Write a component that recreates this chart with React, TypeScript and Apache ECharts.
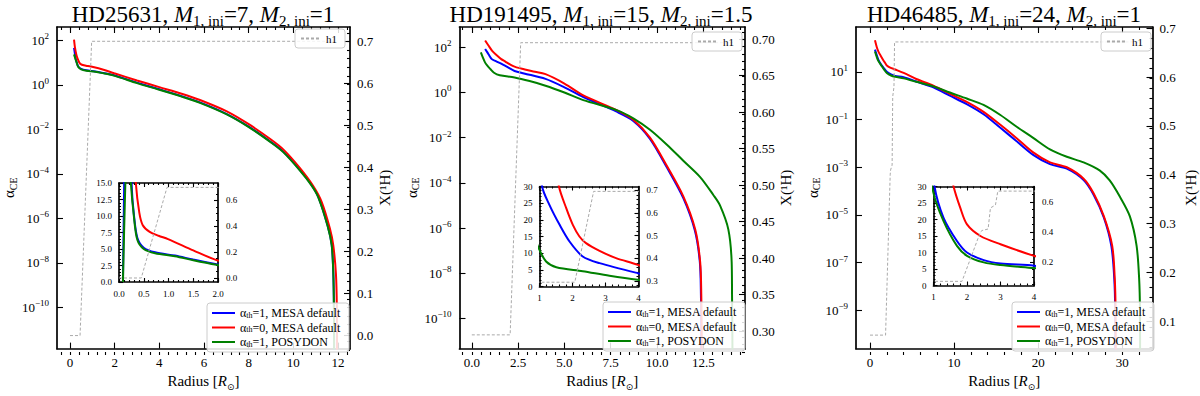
import React, { useEffect, useRef } from 'react';
import * as echarts from 'echarts';

// ---------- DATA: [radius (R_sun), alpha_CE] ; h1: [radius, X(1H)] ----------
const p1Blue: number[][] = [[0.08,0],[0.18,46],[0.22,25],[0.26,14],[0.3,10.3],[0.37,6.7],[0.5,5.2],[0.73,4.5],[1.13,4.0],[1.5,3.4],[1.97,2.7],[3.0,1.26],[4.0,0.63],[5.0,0.31],[5.82,0.163],[7.0,0.050],[8.06,0.0123],[9.0,2.7e-3],[9.55,1.0e-3],[10.3,1.48e-4],[10.8,3.4e-5],[11.12,9.3e-6],[11.54,4.7e-7],[11.72,6.6e-8],[11.79,4.2e-9],[11.82,1e-10],[11.83,1e-13]];
const p1Red: number[][] = [[0.18,107],[0.22,50],[0.28,24],[0.34,15],[0.41,10.5],[0.48,8.6],[0.62,7.6],[0.8,7.0],[0.99,6.5],[1.5,4.8],[1.98,3.3],[3.0,1.58],[4.0,0.79],[5.0,0.40],[5.82,0.209],[7.0,0.066],[8.06,0.0158],[9.0,3.5e-3],[9.55,1.26e-3],[10.3,1.82e-4],[10.9,2.8e-5],[11.27,5.6e-6],[11.64,3.5e-7],[11.79,6.3e-8],[11.91,3.2e-9],[11.95,1e-10],[11.96,1e-13]];
const p1Green: number[][] = [[0.08,0],[0.18,23.4],[0.24,15],[0.3,10],[0.37,6.4],[0.5,5.0],[0.73,4.35],[1.13,3.9],[1.5,3.3],[1.97,2.6],[3.0,1.2],[4.0,0.60],[5.0,0.295],[5.82,0.155],[7.0,0.048],[8.06,0.0117],[9.0,2.6e-3],[9.55,9.5e-4],[10.3,1.41e-4],[10.8,3.2e-5],[11.12,8.9e-6],[11.54,4.5e-7],[11.72,6.3e-8],[11.79,4.0e-9],[11.82,1e-10],[11.83,1e-13]];
const p1H1: number[][] = [[0,0],[0.45,0],[0.97,0.7],[11.85,0.7]];

const p2Blue: number[][] = [[0.72,85],[0.9,50],[1.08,30],[1.3,24.5],[1.61,18.5],[1.91,13.5],[2.31,9.0],[2.82,7.0],[3.98,4.0],[5.0,1.7],[6.02,0.63],[7.82,0.141],[8.72,0.055],[9.62,8.9e-3],[10.52,5.0e-4],[11.42,2.1e-5],[12.04,7.9e-7],[12.31,3.2e-8],[12.37,1.1e-9],[12.39,1e-11],[12.4,1e-14]];
const p2Red: number[][] = [[0.72,200],[0.9,120],[1.1,70],[1.3,48],[1.59,30],[1.81,23.5],[2.01,18.5],[2.21,15],[2.41,13],[2.82,10.7],[3.32,8.5],[3.98,6.5],[5.0,2.5],[6.02,0.74],[7.82,0.166],[8.72,0.062],[9.62,0.01],[10.52,5.8e-4],[11.42,2.5e-5],[12.06,8.7e-7],[12.33,3.1e-8],[12.39,1.1e-9],[12.41,1e-11],[12.42,1e-14]];
const p2Green: number[][] = [[0.49,60],[0.6,35],[0.72,21],[0.85,15],[1.0,11],[1.2,7.5],[1.51,5.8],[2.31,4.6],[3.12,3.2],[3.98,2.0],[5.0,1.0],[6.02,0.46],[7.82,0.166],[8.72,0.072],[9.62,0.0224],[10.52,5.0e-3],[11.42,9.5e-4],[12.33,1.8e-4],[13.04,2.9e-5],[13.4,1e-5],[13.85,8.7e-7],[14.03,3.1e-8],[14.05,1.1e-9],[14.07,1e-11],[14.08,1e-14]];
const p2H1: number[][] = [[0,0.295],[2.07,0.295],[2.64,0.695],[14.1,0.695]];

const p3Blue: number[][] = [[0.59,85],[0.8,50],[1.03,30],[1.3,20.5],[1.7,13.5],[2.0,10],[2.5,7.7],[3.0,6.7],[4.0,6.0],[5.5,3.9],[7.53,2.24],[9.5,1.0],[11.5,0.44],[13.5,0.166],[15.5,0.045],[17.4,0.0126],[19.4,3.3e-3],[21.4,1.35e-3],[23.4,8.7e-4],[25.4,2.9e-4],[26.6,6.9e-5],[27.8,7.9e-6],[28.7,5.0e-7],[29.05,2e-8],[29.15,1e-9],[29.17,1e-12]];
const p3Red: number[][] = [[0.59,209],[0.8,110],[1.0,70],[1.3,45],[1.6,30],[1.8,23.5],[2.0,18.5],[2.4,15],[3.0,12.5],[4.0,9.0],[5.5,5.0],[7.53,2.6],[9.5,1.2],[11.5,0.55],[13.5,0.21],[15.5,0.06],[17.4,0.017],[19.4,4.2e-3],[21.4,1.6e-3],[23.4,1.0e-3],[25.4,3.3e-4],[26.6,7.9e-5],[27.8,8.9e-6],[28.8,5.1e-7],[29.1,2.2e-8],[29.2,1e-9],[29.22,1e-12]];
const p3Green: number[][] = [[0.59,71],[0.8,42],[1.0,28],[1.3,19.5],[1.7,12],[2.0,9.0],[2.5,7.0],[3.0,6.2],[4.0,5.3],[5.5,3.8],[7.53,2.45],[9.5,1.35],[11.5,0.76],[13.5,0.41],[15.5,0.155],[17.4,0.051],[19.4,0.017],[21.4,5.6e-3],[23.4,2.75e-3],[25.4,1.6e-3],[27.3,7.4e-4],[28.5,2.8e-4],[29.7,5.9e-5],[30.9,8.7e-6],[31.7,5.1e-7],[32.0,2.2e-8],[32.1,1e-9],[32.12,1e-12]];
const p3H1: number[][] = [[0,0.072],[1.85,0.072],[2.4,0.40],[2.45,0.41],[2.63,0.42],[2.7,0.56],[2.85,0.58],[2.92,0.672],[32.1,0.672]];

// titles
const starNames = ['HD25631', 'HD191495', 'HD46485'];
const m1Values = ['7', '15', '24'];
const m2Values = ['1', '1.5', '1'];

// tick labels
const p1XTicks = [0, 2, 4, 6, 8, 10, 12];
const p2XTicks = [0, 2.5, 5, 7.5, 10, 12.5];
const p3XTicks = [0, 10, 20, 30];
const p1LogTicks = [2, 0, -2, -4, -6, -8, -10];
const p2LogTicks = [2, 0, -2, -4, -6, -8, -10];
const p3LogTicks = [1, -1, -3, -5, -7, -9];
const p1HTicks = [0, 0.1, 0.2, 0.3, 0.4, 0.5, 0.6, 0.7];
const p2HTicks = [0.3, 0.35, 0.4, 0.45, 0.5, 0.55, 0.6, 0.65, 0.7];
const p3HTicks = [0.1, 0.2, 0.3, 0.4, 0.5, 0.6, 0.7];
const p1InsetXTicks = [0, 0.5, 1, 1.5, 2];
const p1InsetYTicks = [0, 2.5, 5, 7.5, 10, 12.5, 15];
const p1InsetHTicks = [0, 0.2, 0.4, 0.6];
const p23InsetXTicks = [1, 2, 3, 4];
const p23InsetYTicks = [0, 5, 10, 15, 20, 25, 30];
const p2InsetHTicks = [0.3, 0.4, 0.5, 0.6, 0.7];
const p3InsetHTicks = [0.2, 0.4, 0.6];

const legendNames: Record<string, string> = {
  b: '{a|α}{s|th}{a|=1, MESA default}',
  r: '{a|α}{s|th}{a|=0, MESA default}',
  g: '{a|α}{s|th}{a|=1, POSYDON}',
  h1: '{h|h1}',
};

const FONT = '"Liberation Serif", "DejaVu Serif", serif';
const BLUE = '#0000ff';
const RED = '#ff0000';
const GREEN = '#008000';

function range(a: number, b: number, step: number): number[] {
  const out: number[] = [];
  for (let v = a; v <= b + 1e-9; v += step) out.push(Math.round(v * 1e6) / 1e6);
  return out;
}

const fmtFixed = (d: number) => (v: number) => Number(v).toFixed(d);
const fmtPow = (v: number) => {
  const e = Math.round(v);
  return `{n|10}{s|${e < 0 ? '−' + Math.abs(e) : e}}`;
};

type Panel = {
  grid: { left: number; top: number; width: number; height: number };
  x: [number, number]; xMajor: number[]; xMinor: number[]; xFmt: (v: number) => string;
  y: [number, number]; yMajor: number[];
  h: [number, number]; hMajor: number[]; hMinor: number[]; hFmt: (v: number) => string;
  inset: { left: number; top: number; width: number; height: number };
  ix: [number, number]; ixMajor: number[]; ixMinor: number[]; ixFmt: (v: number) => string;
  iy: [number, number]; iyMajor: number[]; iyMinor: number[]; iyFmt: (v: number) => string;
  ihMajor: number[]; ihMinor: number[]; ihFmt: (v: number) => string;
  blue: number[][]; red: number[][]; green: number[][]; h1: number[][];
  titleX: number; leg: [number, number]; hLeg: [number, number];
  leftGap: number; rightGap: number;
};

const panels: Panel[] = [
  {
    grid: { left: 57, top: 27, width: 293, height: 328 },
    x: [-0.582, 12.54], xMajor: p1XTicks, xMinor: range(-0.4, 12.4, 0.4), xFmt: (v) => String(v),
    y: [-11.85, 2.6], yMajor: p1LogTicks,
    h: [-0.031, 0.734], hMajor: p1HTicks, hMinor: range(-0.02, 0.72, 0.02), hFmt: fmtFixed(1),
    inset: { left: 119, top: 183, width: 99, height: 99 },
    ix: [0, 2], ixMajor: p1InsetXTicks, ixMinor: range(0, 2, 0.1), ixFmt: fmtFixed(1),
    iy: [0, 15], iyMajor: p1InsetYTicks, iyMinor: range(0, 15, 0.5), iyFmt: fmtFixed(1),
    ihMajor: p1InsetHTicks, ihMinor: range(0, 0.7, 0.05), ihFmt: fmtFixed(1),
    blue: p1Blue, red: p1Red, green: p1Green, h1: p1H1,
    titleX: 203, leg: [207, 303], hLeg: [295, 29], leftGap: 32, rightGap: 10,
  },
  {
    grid: { left: 459.5, top: 27, width: 285.5, height: 328 },
    x: [-0.664, 14.75], xMajor: p2XTicks, xMinor: range(-0.5, 14.5, 0.5), xFmt: fmtFixed(1),
    y: [-11.34, 2.9], yMajor: p2LogTicks,
    h: [0.2762, 0.7165], hMajor: p2HTicks, hMinor: range(0.28, 0.71, 0.01), hFmt: fmtFixed(2),
    inset: { left: 539.5, top: 186.5, width: 99, height: 100 },
    ix: [1, 4], ixMajor: p23InsetXTicks, ixMinor: range(1, 4, 0.2), ixFmt: (v) => String(v),
    iy: [0, 30], iyMajor: p23InsetYTicks, iyMinor: range(0, 30, 1), iyFmt: (v) => String(v),
    ihMajor: p2InsetHTicks, ihMinor: range(0.28, 0.7, 0.02), ihFmt: fmtFixed(1),
    blue: p2Blue, red: p2Red, green: p2Green, h1: p2H1,
    titleX: 601, leg: [603, 302], hLeg: [692, 32], leftGap: 32, rightGap: 21,
  },
  {
    grid: { left: 856, top: 27, width: 296.5, height: 328 },
    x: [-1.665, 33.59], xMajor: p3XTicks, xMinor: range(0, 32, 2), xFmt: (v) => String(v),
    y: [-10.6, 2.878], yMajor: p3LogTicks,
    h: [0.0444, 0.7026], hMajor: p3HTicks, hMinor: range(0.06, 0.7, 0.02), hFmt: fmtFixed(1),
    inset: { left: 933.5, top: 186.5, width: 100.5, height: 99 },
    ix: [1, 4], ixMajor: p23InsetXTicks, ixMinor: range(1, 4, 0.2), ixFmt: (v) => String(v),
    iy: [0, 30], iyMajor: p23InsetYTicks, iyMinor: range(0, 30, 1), iyFmt: (v) => String(v),
    ihMajor: p3InsetHTicks, ihMinor: range(0.05, 0.7, 0.05), ihFmt: fmtFixed(1),
    blue: p3Blue, red: p3Red, green: p3Green, h1: p3H1,
    titleX: 1004, leg: [1012, 302], hLeg: [1101, 32], leftGap: 32, rightGap: 31,
  },
];

function buildOption() {
  const grid: any[] = [];
  const xAxis: any[] = [];
  const yAxis: any[] = [];
  const series: any[] = [];
  const legend: any[] = [];
  const elements: any[] = [];

  const line = (show: boolean) => ({ show, onZero: false, lineStyle: { color: '#000', width: 1.7 } });
  const ticks = (vals: number[], len: number) => ({
    show: true, inside: true, length: len, customValues: vals, lineStyle: { color: '#000', width: 1.1 },
  });
  const base = { type: 'value', splitLine: { show: false }, silent: true, scale: false };
  const label = (vals: number[], fmt: any, size: number, margin: number, rich?: any) => ({
    show: true, customValues: vals, formatter: fmt, margin, color: '#000', fontFamily: FONT, fontSize: size, rich,
  });
  const addX = (c: any) => { xAxis.push({ ...base, ...c }); return xAxis.length - 1; };
  const addY = (c: any) => { yAxis.push({ ...base, ...c }); return yAxis.length - 1; };
  const addGrid = (g: any, extra: any = {}) => { grid.push({ ...g, containLabel: false, show: false, ...extra }); return grid.length - 1; };

  const powRich = {
    n: { fontFamily: FONT, fontSize: 13, lineHeight: 17, color: '#000' },
    s: { fontFamily: FONT, fontSize: 9, lineHeight: 9, verticalAlign: 'top', color: '#000' },
  };

  panels.forEach((p, pi) => {
    const gA = addGrid(p.grid);
    const gB = addGrid(p.grid);
    const xb = addX({
      gridIndex: gA, position: 'bottom', min: p.x[0], max: p.x[1], axisLine: line(true),
      axisTick: ticks(p.xMajor, 6), axisLabel: label(p.xMajor, p.xFmt, 13, 7),
      name: '{n|Radius [}{i|R}{s|⊙}{n|]}', nameLocation: 'middle', nameGap: 19,
      nameTextStyle: {
        color: '#000', fontFamily: FONT, fontSize: 15,
        rich: {
          n: { fontFamily: FONT, fontSize: 15, lineHeight: 20, color: '#000' },
          i: { fontFamily: FONT, fontSize: 15, lineHeight: 20, fontStyle: 'italic', color: '#000' },
          s: { fontFamily: 'DejaVu Sans', fontSize: 9, lineHeight: 9, verticalAlign: 'bottom', color: '#000' },
        },
      },
    });
    addX({ gridIndex: gA, position: 'top', min: p.x[0], max: p.x[1], axisLine: line(true), axisTick: ticks(p.xMajor, 6), axisLabel: { show: false } });
    const yl = addY({
      gridIndex: gA, position: 'left', min: p.y[0], max: p.y[1], axisLine: line(true),
      axisTick: ticks(p.yMajor, 6), axisLabel: label(p.yMajor, fmtPow, 13, 8, powRich),
      name: '{a|α}{s|CE}', nameLocation: 'middle', nameGap: p.leftGap,
      nameTextStyle: {
        color: '#000', fontFamily: FONT, fontSize: 15,
        rich: {
          a: { fontFamily: FONT, fontSize: 15, lineHeight: 18, color: '#000' },
          s: { fontFamily: FONT, fontSize: 10, lineHeight: 10, verticalAlign: 'bottom', color: '#000' },
        },
      },
    });
    const yr = addY({
      gridIndex: gA, position: 'right', min: p.h[0], max: p.h[1], axisLine: line(true),
      axisTick: ticks(p.hMajor, 6), axisLabel: label(p.hMajor, p.hFmt, 13, 7),
      name: 'X(¹H)', nameLocation: 'middle', nameGap: p.rightGap,
      nameTextStyle: { color: '#000', fontFamily: FONT, fontSize: 15 },
    });
    addX({ gridIndex: gB, position: 'bottom', min: p.x[0], max: p.x[1], axisLine: line(false), axisTick: ticks(p.xMinor, 3), axisLabel: { show: false } });
    addX({ gridIndex: gB, position: 'top', min: p.x[0], max: p.x[1], axisLine: line(false), axisTick: ticks(p.xMinor, 3), axisLabel: { show: false } });
    addY({ gridIndex: gB, position: 'right', min: p.h[0], max: p.h[1], axisLine: line(false), axisTick: ticks(p.hMinor, 3), axisLabel: { show: false } });

    const toLog = (d: number[][]) => d.filter((q) => q[1] > 0).map((q) => [q[0], Math.log10(q[1])]);
    const curve = (name: string, color: string, data: number[][], xi: number, yi: number, z = 2) => ({
      type: 'line', name, data, xAxisIndex: xi, yAxisIndex: yi, showSymbol: false, symbol: 'none',
      smooth: 0.3, lineStyle: { color, width: 2 }, itemStyle: { color }, z, silent: true,
    });
    const dashed = (data: number[][], xi: number, yi: number, z = 3) => ({
      type: 'line', name: 'h1', data, xAxisIndex: xi, yAxisIndex: yi, showSymbol: false, symbol: 'none',
      lineStyle: { color: '#aaaaaa', width: 1, type: [3, 2] }, itemStyle: { color: '#aaaaaa' }, z, silent: true,
    });
    series.push(curve('b', BLUE, toLog(p.blue), xb, yl));
    series.push(curve('r', RED, toLog(p.red), xb, yl));
    series.push(curve('g', GREEN, toLog(p.green), xb, yl));
    series.push(dashed(p.h1, xb, yr));

    const iA = addGrid(p.inset, { show: true, backgroundColor: '#fff', borderWidth: 0, z: 4 });
    const iB = addGrid(p.inset);
    const ixb = addX({ gridIndex: iA, position: 'bottom', min: p.ix[0], max: p.ix[1], axisLine: line(true), axisTick: ticks(p.ixMajor, 4), axisLabel: label(p.ixMajor, p.ixFmt, 9, 7), z: 5 });
    addX({ gridIndex: iA, position: 'top', min: p.ix[0], max: p.ix[1], axisLine: line(true), axisTick: ticks(p.ixMajor, 4), axisLabel: { show: false }, z: 5 });
    const iyl = addY({ gridIndex: iA, position: 'left', min: p.iy[0], max: p.iy[1], axisLine: line(true), axisTick: ticks(p.iyMajor, 4), axisLabel: label(p.iyMajor, p.iyFmt, 9, 7), z: 5 });
    const iyr = addY({ gridIndex: iA, position: 'right', min: p.h[0], max: p.h[1], axisLine: line(true), axisTick: ticks(p.ihMajor, 4), axisLabel: label(p.ihMajor, p.ihFmt, 9, 8), z: 5 });
    addX({ gridIndex: iB, position: 'bottom', min: p.ix[0], max: p.ix[1], axisLine: line(false), axisTick: ticks(p.ixMinor, 2), axisLabel: { show: false }, z: 5 });
    addX({ gridIndex: iB, position: 'top', min: p.ix[0], max: p.ix[1], axisLine: line(false), axisTick: ticks(p.ixMinor, 2), axisLabel: { show: false }, z: 5 });
    addY({ gridIndex: iB, position: 'left', min: p.iy[0], max: p.iy[1], axisLine: line(false), axisTick: ticks(p.iyMinor, 2), axisLabel: { show: false }, z: 5 });
    addY({ gridIndex: iB, position: 'right', min: p.h[0], max: p.h[1], axisLine: line(false), axisTick: ticks(p.ihMinor, 2), axisLabel: { show: false }, z: 5 });
    series.push(curve('b', BLUE, p.blue, ixb, iyl, 6));
    series.push(curve('r', RED, p.red, ixb, iyl, 6));
    series.push(curve('g', GREEN, p.green, ixb, iyl, 6));
    series.push(dashed(p.h1, ixb, iyr, 7));

    legend.push({
      left: p.leg[0], top: p.leg[1], orient: 'vertical', data: ['b', 'r', 'g'], selectedMode: false,
      itemWidth: 23, itemHeight: 8, itemGap: 2.5, padding: [4, 8, 4, 4],
      itemStyle: { opacity: 0 },
      backgroundColor: 'rgba(255,255,255,0.85)', borderColor: '#cccccc', borderWidth: 1, borderRadius: 3,
      formatter: (n: string) => legendNames[n], z: 10,
      textStyle: {
        color: '#000', fontFamily: FONT, fontSize: 12,
        rich: {
          a: { fontFamily: FONT, fontSize: 12, lineHeight: 12, color: '#000' },
          s: { fontFamily: FONT, fontSize: 8, lineHeight: 8, verticalAlign: 'bottom', color: '#000' },
        },
      },
    });
    legend.push({
      left: p.hLeg[0], top: p.hLeg[1], orient: 'vertical', data: ['h1'], selectedMode: false,
      itemWidth: 20, itemHeight: 6, padding: [4, 8, 4, 5],
      itemStyle: { opacity: 0 },
      backgroundColor: 'rgba(255,255,255,0.85)', borderColor: '#cccccc', borderWidth: 1, borderRadius: 3,
      formatter: (n: string) => legendNames[n], z: 10,
      textStyle: { color: '#000', fontFamily: FONT, fontSize: 11, rich: { h: { fontFamily: FONT, fontSize: 11, lineHeight: 12, color: '#000' } } },
    });

    elements.push({
      type: 'text', x: p.titleX, y: 14, z: 10,
      style: {
        text: `{n|${starNames[pi]}, }{i|M}{s|1, ini}{n|=${m1Values[pi]}, }{i|M}{s|2, ini}{n|=${m2Values[pi]}}`,
        align: 'center', verticalAlign: 'middle',
        rich: {
          n: { fontFamily: FONT, fontSize: 23, lineHeight: 28, fill: '#000' },
          i: { fontFamily: FONT, fontSize: 23, lineHeight: 28, fontStyle: 'italic', fill: '#000' },
          s: { fontFamily: FONT, fontSize: 15, lineHeight: 14, verticalAlign: 'bottom', fill: '#000' },
        },
      },
    });
  });

  return {
    animation: false,
    backgroundColor: '#ffffff',
    grid, xAxis, yAxis, series, legend,
    graphic: { elements },
  };
}

export default function App() {
  const ref = useRef<HTMLDivElement>(null);
  useEffect(() => {
    document.body.style.margin = '0';
    const chart = echarts.init(ref.current!, null, { renderer: 'svg' });
    chart.setOption(buildOption() as any);
    return () => chart.dispose();
  }, []);
  return <div ref={ref} style={{ width: 1200, height: 396 }} />;
}
